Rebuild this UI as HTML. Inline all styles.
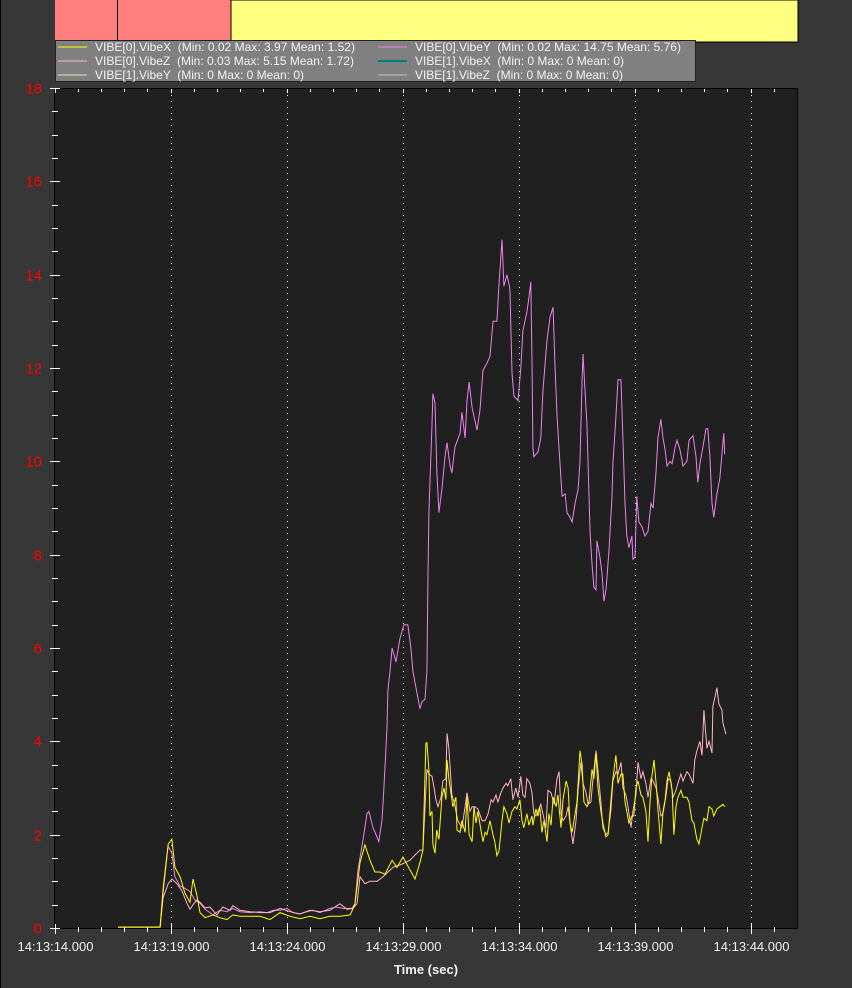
<!DOCTYPE html>
<html><head><meta charset="utf-8"><style>
html,body{margin:0;padding:0;background:#373737;}
#root{position:relative;width:852px;height:988px;background:#373737;overflow:hidden;border-left:1px solid #000;box-sizing:border-box;font-family:"Liberation Sans",sans-serif;}
svg text{white-space:pre;}
</style></head><body>
<div id="root">
<svg id="svg" width="852" height="988" style="position:absolute;left:-1px;top:0">
  <rect x="55" y="0" width="176" height="42" fill="#ff7f7f"/>
  <line x1="117.5" y1="0" x2="117.5" y2="42" stroke="#000"/>
  <rect x="231" y="0" width="567" height="42" fill="#ffff80" stroke="#000" stroke-width="1"/>
  <rect x="54.5" y="88.5" width="743" height="840" fill="#202020" stroke="#000"/>
  <g id="grid"></g>
  <g id="ticks"></g>
  <g id="series"></g>
  <g id="labels"></g>
  <text x="426" y="974" fill="#f0f0f0" font-size="13" font-weight="bold" text-anchor="middle">Time (sec)</text>
  <g>
    <rect x="55.5" y="40.5" width="640" height="41" fill="#808080" stroke="#222"/>
    <g font-size="12" fill="#f2f2f2">
      <line x1="58" y1="47" x2="87" y2="47" stroke="#ffff00"/>
      <text x="95" y="51" textLength="260" lengthAdjust="spacingAndGlyphs">VIBE[0].VibeX  (Min: 0.02 Max: 3.97 Mean: 1.52)</text>
      <line x1="58" y1="61" x2="87" y2="61" stroke="#ffb6c1"/>
      <text x="95" y="65" textLength="259" lengthAdjust="spacingAndGlyphs">VIBE[0].VibeZ  (Min: 0.03 Max: 5.15 Mean: 1.72)</text>
      <line x1="58" y1="75" x2="87" y2="75" stroke="#f5deb3"/>
      <text x="95" y="79" textLength="209" lengthAdjust="spacingAndGlyphs">VIBE[1].VibeY  (Min: 0 Max: 0 Mean: 0)</text>
      <line x1="378" y1="47" x2="407" y2="47" stroke="#ee82ee"/>
      <text x="415" y="51" textLength="266" lengthAdjust="spacingAndGlyphs">VIBE[0].VibeY  (Min: 0.02 Max: 14.75 Mean: 5.76)</text>
      <line x1="378" y1="61" x2="407" y2="61" stroke="#008080" stroke-width="2"/>
      <text x="415" y="65" textLength="209" lengthAdjust="spacingAndGlyphs">VIBE[1].VibeX  (Min: 0 Max: 0 Mean: 0)</text>
      <line x1="378" y1="75" x2="407" y2="75" stroke="#c0c0c0"/>
      <text x="415" y="79" textLength="208" lengthAdjust="spacingAndGlyphs">VIBE[1].VibeZ  (Min: 0 Max: 0 Mean: 0)</text>
    </g>
  </g>
</svg>
</div>
<script>
// time in seconds after 14:13:00
const yTicks = [0,2,4,6,8,10,12,14,16,18];
const xTicks = [14,19,24,29,34,39,44];
const xTickLabels = ["14:13:14.000","14:13:19.000","14:13:24.000","14:13:29.000","14:13:34.000","14:13:39.000","14:13:44.000"];

const vibeYTime = [16.74,18.55,18.68,18.86,18.90,19.06,19.19,19.41,19.62,19.84,20.05,20.27,20.49,20.83,21.13,21.43,21.69,21.99,22.43,22.86,23.16,23.42,23.72,24.02,24.28,24.58,24.88,25.14,25.44,25.87,26.17,26.43,26.82,26.95,27.08,27.30,27.47,27.55,27.73,27.90,27.98,28.11,28.16,28.24,28.33,28.37,28.46,28.55,28.72,28.89,29.06,29.23,29.36,29.45,29.75,29.84,29.97,30.05,30.10,30.14,30.27,30.31,30.40,30.48,30.57,30.70,30.83,30.92,31.05,31.13,31.26,31.48,31.56,31.70,31.78,31.87,32.00,32.21,32.34,32.47,32.64,32.77,32.90,33.07,33.16,33.24,33.29,33.37,33.50,33.63,33.72,33.80,33.98,34.10,34.19,34.36,34.45,34.53,34.58,34.62,34.66,34.84,34.96,35.05,35.23,35.36,35.49,35.57,35.66,35.75,35.88,36.01,36.09,36.22,36.31,36.44,36.57,36.65,36.74,36.78,36.82,36.95,37.00,37.08,37.17,37.25,37.34,37.38,37.51,37.60,37.68,37.77,37.90,38.03,38.07,38.20,38.29,38.42,38.50,38.59,38.67,38.76,38.89,38.93,39.02,39.10,39.19,39.32,39.45,39.58,39.71,39.80,39.93,40.01,40.14,40.23,40.32,40.40,40.53,40.62,40.75,40.83,40.96,41.09,41.26,41.35,41.52,41.65,41.73,41.82,41.95,42.08,42.16,42.25,42.34,42.42,42.55,42.68,42.81,42.85,42.89];
const vibeYVal = [0.02,0.02,0.75,1.6,1.75,1.6,1.1,0.9,0.85,0.78,0.6,0.53,0.4,0.28,0.38,0.35,0.42,0.35,0.33,0.35,0.33,0.38,0.38,0.42,0.33,0.3,0.35,0.38,0.33,0.42,0.45,0.42,0.42,0.52,1.25,1.9,2.45,2.5,2.15,1.95,1.85,2.3,2.65,3.4,4.3,5.1,5.5,6.0,5.7,6.2,6.5,6.5,6.0,5.5,4.7,4.85,4.9,5.5,7.6,8.9,10.8,11.45,11.25,9.8,8.9,9.4,10.1,10.4,9.9,9.75,10.3,10.6,11.05,10.5,11.3,11.7,11.15,10.67,11.1,11.95,12.1,12.25,13.0,13.0,13.8,14.4,14.75,13.75,14.0,13.7,11.9,11.4,11.3,12.0,12.8,13.2,13.5,13.85,12.15,10.3,10.1,10.2,10.5,11.5,12.6,13.1,13.3,12.1,11.0,10.25,9.25,9.3,8.9,8.8,8.7,9.1,9.4,10.0,11.75,12.3,11.95,10.8,9.95,8.5,7.8,7.3,7.25,8.3,7.95,7.6,7.0,7.25,8.1,9.25,9.95,10.95,11.75,11.75,10.5,9.1,8.4,8.15,8.4,7.9,7.95,9.25,8.7,8.6,8.4,8.5,9.1,9.0,9.8,10.5,10.9,10.5,10.25,9.9,10.0,9.95,10.3,10.45,10.25,9.9,10.0,10.45,10.55,10.1,9.55,9.95,10.3,10.7,10.7,10.1,9.1,8.8,9.3,9.65,10.4,10.6,10.15];

const vibeXTime = [16.74,18.55,18.68,18.90,19.06,19.19,19.41,19.62,19.84,19.97,20.14,20.27,20.49,20.83,21.13,21.43,21.69,21.99,22.43,22.86,23.29,23.72,24.15,24.58,25.01,25.44,25.87,26.30,26.74,26.95,27.17,27.38,27.60,27.81,28.03,28.24,28.55,28.76,29.02,29.32,29.54,29.75,29.88,30.01,30.05,30.14,30.18,30.27,30.31,30.40,30.48,30.57,30.70,30.79,30.87,30.92,31.00,31.13,31.17,31.30,31.35,31.48,31.56,31.70,31.78,31.87,32.00,32.08,32.17,32.25,32.38,32.47,32.56,32.64,32.77,32.90,32.98,33.07,33.16,33.29,33.37,33.50,33.59,33.72,33.85,33.93,34.06,34.15,34.23,34.36,34.45,34.58,34.62,34.75,34.84,34.92,35.01,35.10,35.23,35.31,35.40,35.49,35.62,35.70,35.83,35.92,36.05,36.14,36.22,36.31,36.44,36.52,36.65,36.74,36.82,36.95,37.04,37.17,37.25,37.34,37.42,37.55,37.64,37.77,37.86,37.98,38.07,38.20,38.29,38.42,38.50,38.59,38.67,38.76,38.89,38.97,39.06,39.15,39.28,39.36,39.49,39.58,39.67,39.75,39.84,39.93,40.01,40.14,40.23,40.32,40.40,40.49,40.62,40.70,40.79,40.87,41.00,41.09,41.26,41.35,41.48,41.56,41.69,41.78,41.91,41.99,42.12,42.21,42.34,42.42,42.55,42.68,42.81,42.89];
const vibeXVal = [0.02,0.02,0.85,1.8,1.9,1.3,1.1,0.75,0.55,1.05,0.7,0.33,0.22,0.28,0.22,0.18,0.28,0.25,0.25,0.25,0.18,0.33,0.25,0.2,0.25,0.2,0.25,0.25,0.28,0.5,1.4,1.78,1.45,1.2,1.2,1.15,1.45,1.3,1.52,1.25,1.05,1.4,1.67,3.96,3.97,3.4,2.4,2.5,1.8,1.6,2.1,1.9,2.8,3.0,2.75,3.6,3.2,2.75,2.6,2.8,2.1,2.05,2.3,2.05,2.8,2.0,1.85,2.6,2.25,2.5,2.1,1.85,2.05,2.0,2.3,2.0,1.85,1.55,1.65,2.3,2.6,2.45,2.25,2.5,2.6,2.55,2.75,2.3,2.15,2.45,2.2,2.4,2.2,2.55,2.4,2.6,2.05,2.3,1.85,2.45,2.2,2.8,2.6,2.85,2.15,2.75,3.15,3.0,2.25,2.05,2.45,2.7,3.8,3.5,2.7,2.6,2.7,3.4,3.2,3.75,3.05,2.5,2.25,1.95,2.0,2.7,3.2,3.7,3.1,3.3,3.3,2.7,2.5,2.25,2.4,2.4,3.0,3.15,2.85,2.8,2.5,1.85,2.7,3.25,3.6,3.1,2.55,1.8,2.5,2.75,3.15,3.35,2.95,2.0,2.6,2.8,2.95,2.8,2.8,2.7,2.3,2.25,1.9,1.8,2.15,2.35,2.3,2.6,2.55,2.4,2.55,2.6,2.65,2.6];

const vibeZTime = [16.74,18.55,18.68,18.90,19.06,19.28,19.49,19.71,19.84,19.97,20.14,20.27,20.49,20.70,21.00,21.26,21.56,21.69,21.99,22.43,22.86,23.29,23.72,24.15,24.58,25.01,25.44,25.87,26.30,26.61,26.86,27.04,27.17,27.38,27.60,27.90,28.16,28.59,28.89,29.32,29.75,29.88,30.05,30.14,30.27,30.36,30.44,30.53,30.66,30.74,30.87,30.92,31.00,31.13,31.22,31.30,31.39,31.56,31.70,31.78,31.91,32.00,32.12,32.25,32.43,32.56,32.69,32.82,32.90,33.03,33.11,33.24,33.33,33.46,33.54,33.67,33.76,33.89,33.98,34.10,34.19,34.28,34.36,34.49,34.58,34.66,34.75,34.84,34.96,35.05,35.18,35.27,35.40,35.53,35.66,35.75,35.83,35.92,36.05,36.14,36.26,36.35,36.48,36.57,36.69,36.78,36.91,37.00,37.12,37.21,37.34,37.42,37.55,37.64,37.77,37.86,37.98,38.07,38.20,38.29,38.42,38.50,38.63,38.72,38.85,38.93,39.06,39.15,39.28,39.36,39.49,39.58,39.71,39.80,39.93,40.01,40.14,40.23,40.36,40.45,40.57,40.66,40.79,40.87,41.00,41.09,41.26,41.35,41.52,41.60,41.69,41.82,41.91,41.99,42.12,42.21,42.34,42.38,42.47,42.55,42.64,42.77,42.81,42.94];
const vibeZVal = [0.02,0.02,0.65,0.95,1.05,0.95,0.8,0.53,0.4,0.5,0.6,0.55,0.43,0.45,0.28,0.45,0.38,0.48,0.38,0.35,0.33,0.33,0.42,0.35,0.3,0.38,0.35,0.38,0.52,0.4,0.42,0.52,1.1,0.95,1.0,1.0,1.1,1.3,1.35,1.45,1.67,1.67,3.4,3.3,3.25,3.0,2.75,2.6,2.8,3.15,3.2,4.17,3.85,2.85,2.7,2.5,2.3,2.15,2.6,2.9,2.5,2.6,2.6,2.55,2.3,2.3,2.45,2.75,2.7,2.85,2.7,2.9,3.0,3.1,3.05,3.2,2.75,3.0,2.8,3.25,2.85,2.8,3.2,3.1,2.9,2.45,2.4,2.5,2.65,2.45,2.15,2.95,2.9,2.65,3.2,3.35,2.45,2.3,2.4,2.6,2.1,1.8,2.3,2.95,3.55,3.1,2.9,2.65,2.7,3.2,3.8,3.4,2.7,2.15,2.0,2.05,2.5,3.15,3.35,3.3,3.55,3.0,2.85,2.6,2.15,2.5,2.85,3.55,3.2,3.35,3.1,2.8,3.2,3.15,3.0,2.8,2.4,2.45,2.85,3.2,3.15,2.8,2.95,3.1,3.3,3.15,3.35,3.3,3.1,3.6,3.8,4.0,3.7,4.67,3.85,4.0,3.75,4.75,4.95,5.15,4.8,4.67,4.4,4.15];

const NS = "http://www.w3.org/2000/svg";
const X0 = 54.5, PX_PER_S = 23.2, Y0 = 928, PX_PER_U = 840/18;
function xScale(t){ return X0 + (t - 14) * PX_PER_S; }
function yScale(v){ return Y0 - v * PX_PER_U; }
function mk(tag, attrs, parent){ const e = document.createElementNS(NS, tag); for (const k in attrs) e.setAttribute(k, attrs[k]); parent.appendChild(e); return e; }

const grid = document.getElementById('grid'), ticks = document.getElementById('ticks'), labels = document.getElementById('labels'), series = document.getElementById('series');

xTicks.forEach((t, i) => {
  const x = Math.round(xScale(t)) + 0.5;
  if (i > 0) {
    const g = mk('line', {x1:x, y1:89, x2:x, y2:928, stroke:'#ffffff', 'stroke-dasharray':'1 5'}, grid);
    
    
  }
  const tk = mk('line', {x1:x, y1:924, x2:x, y2:934, stroke:'#fff'}, ticks);
  
  
  const lb = mk('text', {x:x, y:951, fill:'#f0f0f0', 'font-size':13, 'text-anchor':'middle'}, labels);
  lb.textContent = xTickLabels[i];
  
  
});
for (let t = 14; t <= 45; t++) {
  const x = Math.round(xScale(t)) + 0.5;
  if (x > 797) break;
  if ((t - 14) % 5 !== 0) {
    const m = mk('line', {x1:x, y1:927, x2:x, y2:932, stroke:'#fff'}, ticks);
    
    
  }
  const tt = mk('line', {x1:x, y1:89, x2:x, y2:(t - 14) % 5 === 0 ? 93 : 92, stroke:'#fff'}, ticks);
  
  
}
yTicks.forEach(v => {
  const y = Math.round(yScale(v)) + 0.5;
  const tk = mk('line', {x1:50, y1:y, x2:60, y2:y, stroke:'#fff'}, ticks);
  
  
  const lb = mk('text', {x:42, y:y + 5, fill:'#ff0000', 'font-size':15, 'text-anchor':'end'}, labels);
  lb.textContent = String(v);
  
  
});
for (let v = 0.5; v < 18; v += 0.5) {
  if (v % 2 === 0) continue;
  const y = Math.round(yScale(v)) + 0.5;
  const m = mk('line', {x1:52, y1:y, x2:58, y2:y, stroke:'#fff'}, ticks);
  
  
}

function drawSeries(times, vals, color, name){
  const d = times.map((t, i) => (i ? 'L' : 'M') + xScale(t).toFixed(1) + ' ' + yScale(vals[i]).toFixed(1)).join(' ');
  const p = mk('path', {d:d, fill:'none', stroke:color, 'stroke-width':1}, series);
  
  
}
drawSeries(vibeYTime, vibeYVal, '#ee82ee', 'vibe0-y-line');
drawSeries(vibeZTime, vibeZVal, '#ffb6c1', 'vibe0-z-line');
drawSeries(vibeXTime, vibeXVal, '#ffff00', 'vibe0-x-line');
</script>
</body></html>
